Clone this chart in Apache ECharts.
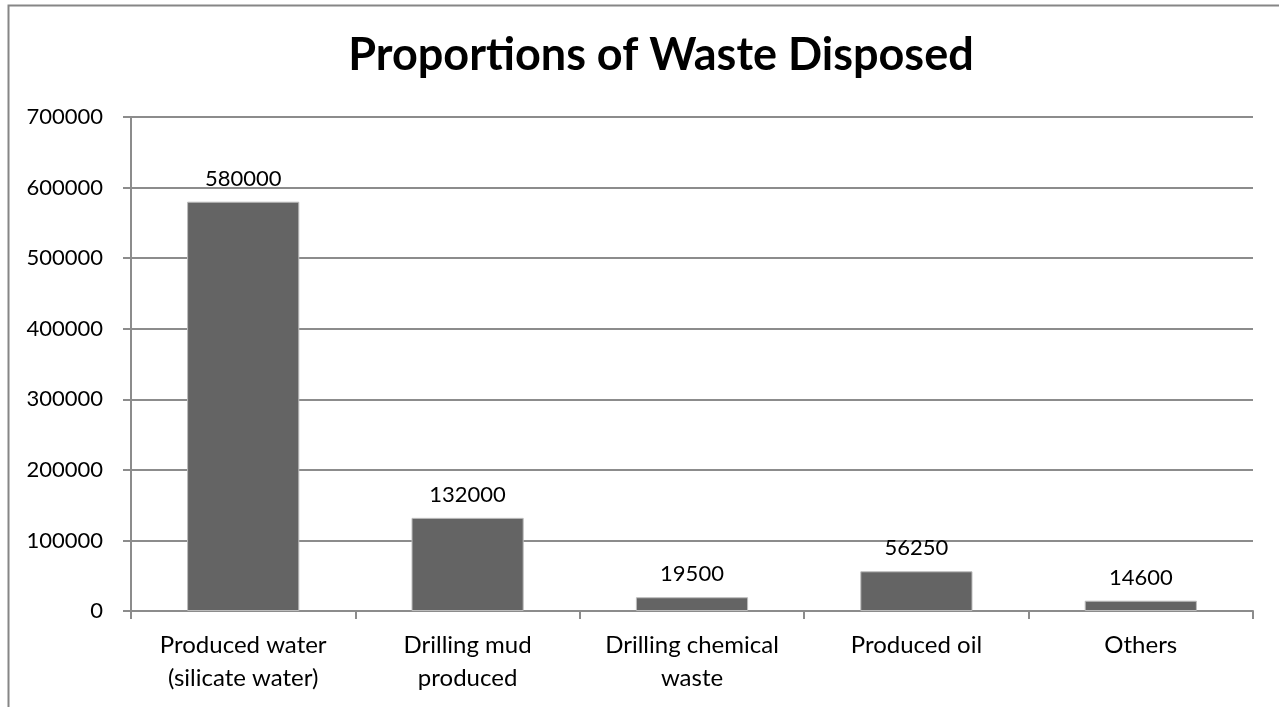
<!DOCTYPE html>
<html>
<head>
<meta charset="utf-8">
<script src="https://cdn.jsdelivr.net/npm/echarts@6/dist/echarts.min.js"></script>
<style>
  html, body { margin: 0; padding: 0; background: #fff; }
  #chart { width: 1279px; height: 707px; }
</style>
</head>
<body>
<div id="chart"></div>
<script>
const chartTitle = 'Proportions of Waste Disposed';
const categories = [
  'Produced water\n(silicate water)',
  'Drilling mud\nproduced',
  'Drilling chemical\nwaste',
  'Produced oil',
  'Others'
];
const wasteValues = [580000, 132000, 19500, 56250, 14600];

const myChart = echarts.init(document.getElementById('chart'));
const font = 'Lato, "Open Sans", sans-serif';

const option = {
  animation: false,
  textStyle: { fontFamily: font },
  graphic: [{
    // outer chart frame (runs off the right/bottom edge)
    type: 'rect',
    shape: { x: 8.5, y: 5.5, width: 1400, height: 800 },
    style: { fill: 'none', stroke: '#868686', lineWidth: 2 },
    silent: true
  }],
  title: {
    text: chartTitle,
    left: 656,
    top: 28,
    textAlign: 'center',
    textStyle: { fontFamily: font, fontSize: 45, fontWeight: 'bold', color: '#000' }
  },
  grid: { left: 131, right: 26, top: 117, bottom: 96 },
  xAxis: {
    type: 'category',
    data: categories,
    axisLine: { lineStyle: { color: '#8c8c8c', width: 2 } },
    axisTick: { show: true, length: 8, alignWithLabel: false, lineStyle: { color: '#8c8c8c', width: 2 } },
    axisLabel: { color: '#000', fontSize: 24, lineHeight: 33, margin: 18, interval: 0 }
  },
  yAxis: {
    type: 'value',
    min: 0,
    max: 700000,
    interval: 100000,
    axisLine: { show: true, lineStyle: { color: '#8c8c8c', width: 2 } },
    axisTick: { show: true, length: 8, lineStyle: { color: '#8c8c8c', width: 2 } },
    splitLine: { lineStyle: { color: '#8c8c8c', width: 2 } },
    axisLabel: { color: '#000', fontSize: 22, margin: 28, formatter: v => String(v) }
  },
  series: [{
    type: 'bar',
    data: wasteValues,
    barWidth: '50%',
    itemStyle: { color: '#646464', borderColor: '#bdbdbd', borderWidth: 1 },
    label: { show: true, position: 'top', distance: 12, color: '#000', fontSize: 22 }
  }]
};
myChart.setOption(option);
</script>
</body>
</html>
